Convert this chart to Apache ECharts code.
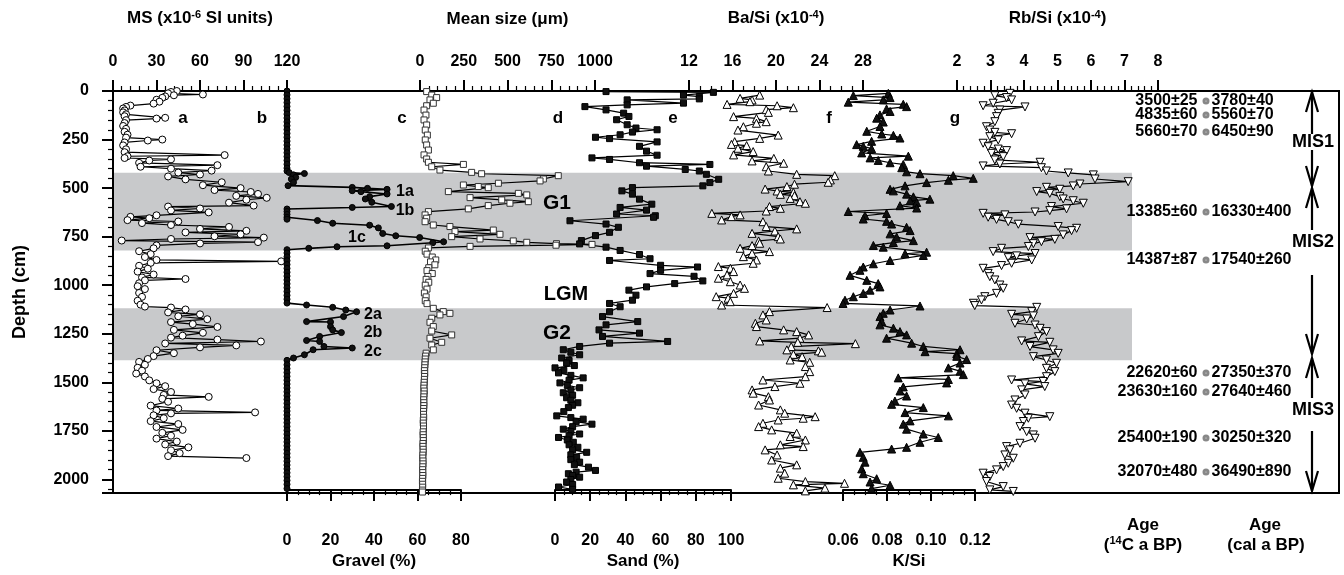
<!DOCTYPE html>
<html><head><meta charset="utf-8">
<script src="https://cdn.jsdelivr.net/npm/echarts@6/dist/echarts.min.js"></script>
<style>html,body{margin:0;padding:0;background:#fff}#c{width:1344px;height:575px}</style>
</head><body><div id="c"></div>
<script>
// ---------- DATA (depth in cm, value) ----------
const depthTicks = [0, 250, 500, 750, 1000, 1250, 1500, 1750, 2000];
const gBands = [[421, 821], [1119, 1386]];

const msData = [[0,44],[5,40],[12,38],[18,62],[22,42],[28,36],[35,34],[45,30],[55,32],[65,28],[75,12],[82,9],[90,7],[100,8],[110,7],[120,9],[130,8],[138,36],[142,30],[150,9],[165,8],[180,7],[195,9],[210,8],[225,10],[240,9],[250,34],[255,24],[265,8],[280,7],[300,9],[315,8],[330,77],[336,10],[345,8],[352,40],[358,25],[370,18],[382,72],[390,19],[400,40],[410,68],[420,45],[430,60],[440,38],[455,50],[470,75],[485,62],[500,88],[510,70],[520,95],[530,100],[540,85],[550,106],[560,92],[575,80],[590,97],[595,38],[605,60],[615,40],[625,66],[640,30],[648,12],[655,25],[665,10],[672,45],[680,20],[690,40],[700,80],[710,60],[720,92],[728,50],[738,88],[748,70],[755,104],[762,40],[770,6],[778,100],[785,60],[795,30],[810,28],[825,18],[840,26],[855,22],[870,30],[877,116],[885,26],[900,18],[915,24],[930,17],[945,28],[960,20],[968,50],[975,22],[990,18],[1005,17],[1020,22],[1040,18],[1060,20],[1080,17],[1100,19],[1110,22],[1115,40],[1125,50],[1140,38],[1150,60],[1160,45],[1175,65],[1190,40],[1200,55],[1215,72],[1230,42],[1245,62],[1260,48],[1270,40],[1280,72],[1290,102],[1300,36],[1310,85],[1320,60],[1335,30],[1350,42],[1365,28],[1380,24],[1395,18],[1410,22],[1425,17],[1440,20],[1455,16],[1470,22],[1490,25],[1505,30],[1520,36],[1535,28],[1550,40],[1565,35],[1575,66],[1585,34],[1600,38],[1620,26],[1635,45],[1645,30],[1655,98],[1660,40],[1670,28],[1685,35],[1700,26],[1715,45],[1730,30],[1745,48],[1760,34],[1775,40],[1790,30],[1805,44],[1820,36],[1835,52],[1850,40],[1865,46],[1880,38],[1890,92]];

const gravelData = [[0,0],[20,0],[40,0],[60,0],[80,0],[100,0],[120,0],[140,0],[160,0],[180,0],[200,0],[220,0],[240,0],[260,0],[280,0],[300,0],[320,0],[340,0],[360,0],[380,0],[400,0],[415,0],[423,1],[428,8],[435,3],[448,4],[457,2],[474,3],[491,0.5],[500,30],[505,37],[510,46],[517,30],[522,34],[534,46],[548,38],[560,36],[577,39],[599,48],[604,30],[612,0],[625,0],[640,0],[655,0],[665,0],[672,14],[686,21],[696,38],[710,42],[739,44],[751,50],[760,61],[782,72],[787,67],[803,46],[808,23],[816,10],[823,0],[840,0],[860,0],[880,0],[900,0],[920,0],[940,0],[960,0],[980,0],[1000,0],[1020,0],[1040,0],[1060,0],[1080,0],[1100,0],[1110,9],[1122,21],[1136,27],[1145,32],[1170,26],[1196,9],[1198,20],[1222,20],[1239,21],[1253,25],[1273,15],[1294,9],[1299,15],[1325,17],[1333,30],[1342,12],[1368,8],[1385,3],[1397,0],[1420,0],[1440,0],[1460,0],[1480,0],[1500,0],[1520,0],[1540,0],[1560,0],[1580,0],[1600,0],[1620,0],[1640,0],[1660,0],[1680,0],[1700,0],[1720,0],[1740,0],[1760,0],[1780,0],[1800,0],[1820,0],[1840,0],[1860,0],[1880,0],[1900,0],[1920,0],[1940,0],[1960,0],[1980,0],[2000,0],[2020,0],[2040,0],[2062,0]];

const meanSizeData = [[3,38],[21,67],[34,95],[46,57],[63,76],[76,38],[98,23],[124,34],[149,23],[175,38],[201,30],[227,42],[252,30],[278,38],[304,48],[329,23],[350,38],[367,48],[378,248],[390,67],[407,114],[419,295],[426,352],[436,790],[453,705],[463,686],[475,448],[484,248],[492,333],[498,390],[518,162],[527,562],[535,610],[549,286],[561,467],[570,619],[578,514],[590,390],[607,276],[621,48],[638,29],[655,38],[673,29],[690,76],[698,171],[716,419],[724,200],[738,457],[750,181],[762,343],[772,533],[779,610],[786,780],[790,983],[794,777],[800,286],[808,48],[825,30],[840,40],[855,70],[870,90],[880,60],[895,85],[910,50],[925,40],[940,70],[955,45],[970,35],[985,50],[1000,30],[1020,40],[1040,25],[1060,35],[1080,30],[1095,40],[1119,76],[1136,133],[1145,171],[1153,114],[1170,67],[1191,57],[1213,76],[1236,67],[1256,181],[1273,57],[1294,124],[1308,67],[1333,76],[1350,35],[1365,32],[1380,30],[1395,29],[1410,28],[1425,27],[1440,25],[1455,27],[1470,26],[1485,25],[1500,24],[1515,23],[1530,22],[1545,24],[1560,23],[1575,22],[1590,21],[1605,22],[1620,22],[1635,21],[1650,20],[1665,20],[1680,21],[1695,19],[1710,19],[1725,20],[1740,20],[1755,18],[1770,18],[1785,19],[1800,19],[1815,17],[1830,17],[1845,18],[1860,18],[1875,16],[1890,16],[1905,17],[1920,17],[1935,16],[1950,15],[1965,16],[1980,16],[1995,15],[2010,14],[2025,15],[2040,15],[2055,14],[2065,14]];

const sandData = [[3,29],[7,90],[21,73],[29,82],[41,82],[46,41],[63,73],[72,41],[81,17],[98,29],[115,39],[132,42],[149,35],[175,41],[192,46],[201,58],[213,44],[227,37],[240,23],[247,31],[264,58],[287,48],[312,52],[333,58],[347,21],[355,31],[372,48],[381,88],[390,52],[407,74],[415,82],[432,86],[458,93],[475,88],[492,84],[501,44],[518,38],[535,44],[561,48],[587,55],[604,37],[618,52],[638,35],[647,57],[655,56],[673,8.5],[690,29],[707,36],[733,31],[750,23],[776,15],[793,14],[810,29],[827,37],[848,48],[870,54],[879,31],[904,60],[913,81],[930,60],[947,54],[961,79],[985,84],[999,68],[1016,52],[1033,42],[1059,46],[1085,44],[1102,31],[1119,37],[1145,31],[1170,27],[1196,47],[1213,29],[1239,25],[1256,48],[1273,27],[1299,64],[1308,31],[1325,14],[1342,4.7],[1355,9],[1368,14],[1385,3.8],[1398,8],[1411,6.6],[1424,11],[1436,0],[1449,5],[1462,2],[1475,9],[1488,16],[1500,8],[1514,2.8],[1527,7],[1539,14],[1552,9],[1565,4.7],[1578,10],[1591,6.6],[1604,9],[1617,13],[1630,10],[1642,7.6],[1663,5],[1685,1],[1694,9],[1702,16],[1715,12],[1728,21],[1741,10],[1754,4.7],[1766,9],[1779,14],[1788,8],[1797,2],[1810,7],[1822,10.4],[1835,8],[1848,13],[1861,10],[1874,18],[1887,9],[1900,12.3],[1912,9],[1925,14],[1938,11],[1951,19],[1968,23],[1977,12],[1985,7.6],[1994,10],[2003,14],[2015,9],[2028,6.6],[2041,10],[2054,2],[2066,10]];

const baSiData = [[21,18.5],[38,16.7],[46,17.8],[55,17.6],[69,15.5],[76,20.1],[86,21.6],[96,19.1],[110,19.3],[132,16.1],[141,18.2],[158,19.1],[166,18.2],[184,17.0],[201,16.5],[227,20.2],[244,18.5],[261,16.2],[275,15.9],[281,17.3],[295,16.5],[312,17.9],[329,16.1],[347,19.8],[360,17.8],[372,20.7],[390,19.1],[412,19.3],[429,21.9],[436,25.4],[458,25.0],[470,24.8],[480,21.7],[492,21.0],[505,19.0],[515,20.1],[522,21.6],[532,20.4],[539,21.7],[553,21.3],[570,22.2],[578,22.7],[595,19.4],[604,20.4],[618,19.1],[630,14.1],[638,16.7],[647,15.9],[664,15.0],[673,18.8],[698,19.1],[710,21.9],[721,19.9],[733,17.8],[750,20.2],[762,20.4],[772,18.4],[784,18.5],[796,17.8],[810,16.7],[827,19.4],[836,17.8],[853,17.0],[870,18.2],[887,17.9],[904,14.7],[913,15.8],[930,16.1],[947,15.5],[964,14.7],[982,15.8],[999,16.7],[1016,17.1],[1042,16.1],[1059,14.5],[1067,15.6],[1085,15.8],[1102,15.0],[1115,24.7],[1136,19.4],[1153,18.8],[1179,19.1],[1196,18.1],[1213,18.2],[1230,20.7],[1239,21.9],[1256,23.0],[1273,22.2],[1287,18.5],[1294,22.0],[1301,27.3],[1316,21.4],[1333,21.0],[1338,23.9],[1345,24.2],[1356,21.6],[1368,22.4],[1385,21.3],[1397,23.1],[1419,22.7],[1445,23.1],[1471,22.7],[1488,18.8],[1505,22.2],[1522,19.9],[1539,17.8],[1556,17.9],[1574,19.3],[1591,19.4],[1617,18.4],[1642,20.4],[1659,20.8],[1677,23.6],[1685,22.5],[1694,20.2],[1711,18.8],[1728,18.4],[1745,19.6],[1762,21.9],[1779,21.3],[1797,22.7],[1822,20.4],[1831,22.5],[1848,19.0],[1874,20.1],[1900,19.6],[1925,21.9],[1942,20.4],[1968,20.8],[1994,20.2],[2011,22.7],[2020,26.3],[2028,21.6],[2045,24.5],[2059,22.7]];

const kSiData = [[12,0.0806],[24,0.0647],[34,0.0814],[46,0.0783],[58,0.0624],[69,0.0874],[81,0.0889],[93,0.0798],[106,0.0814],[124,0.0768],[141,0.0753],[161,0.0783],[184,0.0768],[209,0.0708],[223,0.0776],[230,0.0829],[244,0.0859],[261,0.0730],[278,0.0662],[287,0.0692],[299,0.0730],[321,0.0685],[338,0.0897],[347,0.0723],[360,0.0760],[372,0.0814],[381,0.0874],[398,0.0867],[419,0.0889],[429,0.0950],[439,0.1101],[453,0.1192],[463,0.1079],[475,0.0980],[492,0.0882],[510,0.0814],[518,0.0829],[535,0.0889],[549,0.0920],[561,0.0995],[570,0.0905],[578,0.0935],[595,0.0859],[607,0.0935],[625,0.0624],[635,0.0798],[647,0.0700],[664,0.0692],[676,0.0798],[690,0.0821],[707,0.0889],[724,0.0905],[741,0.0814],[758,0.0844],[776,0.0920],[786,0.0829],[801,0.0738],[810,0.0783],[836,0.0980],[844,0.0882],[853,0.0965],[879,0.0814],[896,0.0738],[913,0.0692],[930,0.0677],[956,0.0632],[982,0.0708],[999,0.0760],[1016,0.0768],[1033,0.0723],[1050,0.0692],[1067,0.0647],[1085,0.0609],[1102,0.0600],[1115,0.0950],[1136,0.0814],[1153,0.0783],[1170,0.0768],[1196,0.0776],[1213,0.0768],[1230,0.0829],[1248,0.0859],[1265,0.0889],[1282,0.0798],[1308,0.0912],[1325,0.0965],[1342,0.1132],[1352,0.0973],[1362,0.1117],[1376,0.1117],[1393,0.1162],[1411,0.1132],[1436,0.1079],[1453,0.1132],[1471,0.1147],[1488,0.0851],[1496,0.1079],[1514,0.1071],[1535,0.0874],[1556,0.0859],[1582,0.0889],[1608,0.0836],[1625,0.0821],[1642,0.0965],[1668,0.0882],[1685,0.1079],[1711,0.0905],[1728,0.0874],[1754,0.0889],[1779,0.0965],[1797,0.1033],[1822,0.0950],[1848,0.0889],[1857,0.0821],[1874,0.0677],[1900,0.0692],[1925,0.0700],[1960,0.0685],[1985,0.0692],[2011,0.0753],[2028,0.0723],[2045,0.0814],[2062,0.0730]];

const rbSiData = [[12,3.58],[24,3.13],[34,3.48],[46,3.63],[63,3.08],[76,2.78],[82,4.03],[98,3.28],[115,3.23],[132,3.18],[158,3.13],[184,2.88],[201,2.98],[213,3.13],[220,3.63],[235,2.98],[252,3.23],[269,2.78],[287,2.93],[299,3.23],[307,3.48],[321,3.03],[338,3.38],[355,3.13],[367,4.48],[376,3.28],[386,2.78],[395,4.52],[412,4.67],[422,5.32],[432,6.07],[453,6.12],[467,7.11],[479,5.67],[489,5.47],[496,4.67],[506,5.07],[518,4.38],[527,4.77],[544,5.07],[556,5.17],[565,5.47],[578,5.77],[595,4.82],[607,5.27],[616,4.77],[623,4.33],[630,2.78],[638,3.43],[650,2.93],[661,3.18],[673,3.53],[686,3.83],[698,5.02],[707,5.57],[719,5.42],[741,5.17],[755,4.18],[764,4.92],[776,4.52],[786,4.28],[801,4.13],[810,3.33],[827,3.08],[837,4.33],[849,3.78],[858,3.53],[870,4.23],[887,3.63],[899,3.33],[913,2.78],[939,2.93],[956,2.98],[973,3.13],[999,3.28],[1016,3.38],[1042,3.18],[1059,2.83],[1076,2.73],[1093,2.49],[1105,2.53],[1114,4.38],[1136,4.23],[1150,3.63],[1158,4.28],[1174,4.08],[1196,3.73],[1205,4.33],[1222,4.48],[1239,4.67],[1265,4.43],[1287,3.93],[1294,4.77],[1316,4.18],[1333,4.87],[1351,5.02],[1368,4.28],[1385,4.67],[1402,4.97],[1428,4.67],[1445,4.92],[1471,4.67],[1488,3.63],[1496,4.57],[1508,4.03],[1522,4.62],[1539,3.93],[1565,4.03],[1591,3.73],[1617,3.63],[1634,3.78],[1659,4.03],[1677,4.77],[1685,4.13],[1702,3.98],[1728,3.88],[1754,4.08],[1771,4.28],[1788,4.33],[1814,3.88],[1831,3.48],[1848,3.58],[1874,3.43],[1891,3.68],[1917,3.53],[1934,3.38],[1951,3.18],[1968,2.78],[1985,2.98],[2011,2.88],[2037,3.38],[2054,2.98],[2062,3.68]];

const ageDepth = [51, 124, 211, 623, 870, 1452, 1550, 1787, 1962];
const age14C = ['3500±25','4835±60','5660±70','13385±60','14387±87','22620±60','23630±160','25400±190','32070±480'];
const ageCal = ['3780±40','5560±70','6450±90','16330±400','17540±260','27350±370','27640±460','30250±320','36490±890'];

// ---------- LAYOUT ----------
const DEPTH_MAX = 2070;
const FONT = '"Liberation Sans", Arial, sans-serif';
const TOP = 91, BOTTOM = 82;
const RICH = { s: { fontSize: 11, fontWeight: 'bold', fontFamily: FONT, color: '#000', verticalAlign: 'top', padding: [0, 0, 8, 0] } };

const grids = [
  { left: 113, right: 5 },      // 0 frame
  { left: 114, width: 1018 },   // 1 bands
  { left: 113, width: 174 },    // 2 MS
  { left: 287, width: 174 },    // 3 gravel
  { left: 420, width: 175 },    // 4 mean size
  { left: 555, width: 176 },    // 5 sand
  { left: 689, width: 174 },    // 6 Ba/Si
  { left: 843, width: 132 },    // 7 K/Si
  { left: 957, width: 201 },    // 8 Rb/Si
  { left: 1206, width: 1 }      // 9 ages
].map((g, i) => Object.assign({ top: TOP, bottom: BOTTOM }, g,
  i === 0 ? { show: true, borderColor: '#000', borderWidth: 2, backgroundColor: 'transparent' } : {}));

function visX(gridIndex, position, min, max, interval, name, minorSplit, fmt) {
  const top = position === 'top';
  return {
    type: 'value', gridIndex, position, min, max, interval,
    name, nameLocation: 'middle', nameGap: top ? 63 : 60,
    nameTextStyle: { color: '#000', fontSize: 17, fontWeight: 'bold', fontFamily: FONT, rich: RICH },
    axisLine: { show: true, onZero: false, lineStyle: { color: '#000', width: 2 } },
    axisTick: { show: true, length: 11, lineStyle: { color: '#000', width: 2 } },
    minorTick: { show: true, splitNumber: minorSplit, length: 5, lineStyle: { color: '#000', width: 1.2 } },
    axisLabel: { color: '#000', fontSize: 16, fontWeight: 'bold', fontFamily: FONT, margin: top ? 21 : 42,
      formatter: fmt || (v => String(v)) },
    splitLine: { show: false }
  };
}
const hidX = (gridIndex, min, max) => ({ type: 'value', gridIndex, min, max, show: false });

const xAxis = [
  hidX(0, 0, 1), hidX(1, 0, 1),
  visX(2, 'top', 0, 120, 30, 'MS (x10{s|-6} SI units)', 5),
  visX(3, 'bottom', 0, 80, 20, 'Gravel (%)', 4),
  visX(4, 'top', 0, 1000, 250, 'Mean size (μm)', 5),
  visX(5, 'bottom', 0, 100, 20, 'Sand (%)', 4),
  visX(6, 'top', 12, 28, 4, 'Ba/Si (x10{s|-4})', 4),
  visX(7, 'bottom', 0.06, 0.12, 0.02, 'K/Si', 4, v => v.toFixed(2)),
  visX(8, 'top', 2, 8, 1, 'Rb/Si (x10{s|-4})', 5),
  hidX(9, 0, 1)
];

const yAxis = grids.map((g, i) => i === 0 ? {
  type: 'value', gridIndex: 0, inverse: true, min: 0, max: DEPTH_MAX, interval: 250, position: 'left',
  name: 'Depth (cm)', nameLocation: 'middle', nameGap: 84, nameRotate: 90,
  nameTextStyle: { color: '#000', fontSize: 18, fontWeight: 'bold', fontFamily: FONT },
  axisLine: { show: true, lineStyle: { color: '#000', width: 2 } },
  axisTick: { show: true, length: 11, lineStyle: { color: '#000', width: 2 } },
  minorTick: { show: true, splitNumber: 5, length: 5, lineStyle: { color: '#000', width: 1.2 } },
  axisLabel: { color: '#000', fontSize: 16, fontWeight: 'bold', fontFamily: FONT, margin: 24, showMaxLabel: false,
    formatter: v => depthTicks.indexOf(v) >= 0 ? String(v) : '' },
  splitLine: { show: false }
} : { type: 'value', gridIndex: i, inverse: true, min: 0, max: DEPTH_MAX, show: false });

function lineSeries(gi, data, symbol, fill, size, extra) {
  return Object.assign({
    type: 'line', xAxisIndex: gi, yAxisIndex: gi, z: 3,
    data: data.map(d => [d[1], d[0]]),
    symbol, symbolSize: size, showAllSymbol: true, clip: false,
    itemStyle: { color: fill, borderColor: '#000', borderWidth: 1 },
    lineStyle: { color: '#000', width: 1.2 },
    emphasis: { disabled: true }
  }, extra || {});
}

const ageLabel = { show: true, color: '#000', fontSize: 16, fontWeight: 'bold', fontFamily: FONT };
const series = [
  { type: 'line', xAxisIndex: 1, yAxisIndex: 1, z: 1, data: [[0, 0]], symbol: 'none', lineStyle: { opacity: 0 },
    markArea: { silent: true, itemStyle: { color: '#c8c9cb' },
      data: gBands.map(b => [{ yAxis: b[0] }, { yAxis: b[1] }]) } },
  lineSeries(2, msData, 'circle', '#fff', 7),
  lineSeries(3, gravelData, 'circle', '#111', 6, { lineStyle: { color: '#000', width: 1.6 } }),
  lineSeries(4, meanSizeData, 'rect', '#fff', 6, { itemStyle: { color: '#fff', borderColor: '#333', borderWidth: 1 } }),
  lineSeries(5, sandData, 'rect', '#111', 6),
  lineSeries(6, baSiData, 'triangle', '#fff', 8),
  lineSeries(7, kSiData, 'triangle', '#111', 8),
  lineSeries(8, rbSiData, 'triangle', '#fff', 8, { symbolRotate: 180 }),
  { type: 'scatter', xAxisIndex: 9, yAxisIndex: 9, z: 3, symbolSize: 7, itemStyle: { color: '#888', opacity: 1 },
    emphasis: { disabled: true },
    data: ageDepth.map((d, i) => ({ value: [0, d], label: { formatter: ageCal[i] } })),
    label: Object.assign({ position: 'right', distance: 2 }, ageLabel) },
  { type: 'scatter', xAxisIndex: 9, yAxisIndex: 9, z: 3, symbolSize: 1, itemStyle: { color: '#fff', opacity: 1 },
    emphasis: { disabled: true },
    data: ageDepth.map((d, i) => ({ value: [0, d], label: { formatter: age14C[i] } })),
    label: Object.assign({ position: 'left', distance: 8 }, ageLabel) }
];

// ---------- ANNOTATIONS ----------
function txt(x, y, text, size, extra) {
  return { type: 'text', x, y, z: 10, style: Object.assign({ text, fill: '#000', font: 'bold ' + size + 'px ' + FONT,
    textAlign: 'center', textVerticalAlign: 'middle' }, extra || {}) };
}
const graphic = [];
[['a',183],['b',262],['c',402],['d',558],['e',673],['f',829],['g',955]].forEach(p => graphic.push(txt(p[1], 118, p[0], 17)));
[['1a',405,192],['1b',405,211],['1c',357,238],['2a',373,315],['2b',373,333],['2c',373,352]].forEach(p => graphic.push(txt(p[1], p[2], p[0], 16)));
graphic.push(txt(557, 203, 'G1', 21), txt(566, 294, 'LGM', 20), txt(557, 333, 'G2', 21));
graphic.push(txt(1143, 525, 'Age', 17), txt(1265, 525, 'Age', 17), txt(1266, 545, '(cal a BP)', 17));
graphic.push({ type: 'text', x: 1143, y: 545, z: 10, style: { text: '({s|14}C a BP)', fill: '#000', font: 'bold 17px ' + FONT,
  textAlign: 'center', textVerticalAlign: 'middle', rich: { s: { fontSize: 11, fontWeight: 'bold', fontFamily: FONT, verticalAlign: 'top', padding: [0, 0, 8, 0] } } } });
const MX = 1312;
[[92,134],[150,186],[188,230],[275,354],[358,398],[431,491]].forEach(s =>
  graphic.push({ type: 'line', z: 10, shape: { x1: MX, y1: s[0], x2: MX, y2: s[1] }, style: { stroke: '#000', lineWidth: 2.2 } }));
[[92,1],[186,-1],[188,1],[354,-1],[358,1],[491,-1]].forEach(a =>
  graphic.push({ type: 'polyline', z: 10, shape: { points: [[MX - 6, a[0] + a[1] * 20], [MX, a[0]], [MX + 6, a[0] + a[1] * 20]] },
    style: { stroke: '#000', lineWidth: 2.2, fill: null } }));
graphic.push(txt(MX + 1, 142, 'MIS1', 18), txt(MX + 1, 242, 'MIS2', 18), txt(MX + 1, 410, 'MIS3', 18));

const chart = echarts.init(document.getElementById('c'));
chart.setOption({ animation: false, backgroundColor: '#fff', grid: grids, xAxis, yAxis, series, graphic });
</script></body></html>
